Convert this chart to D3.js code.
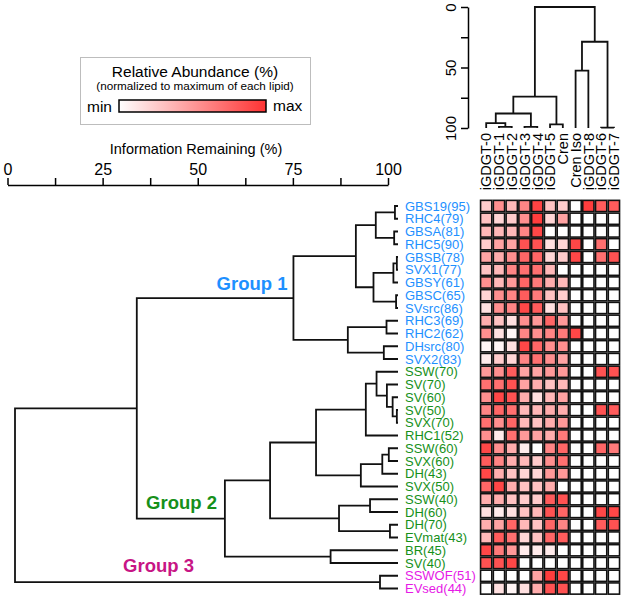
<!DOCTYPE html>
<html>
<head>
<meta charset="utf-8">
<script src="https://cdn.jsdelivr.net/npm/d3@7"></script>
<style>
  body { margin: 0; background: #fff; }
  svg { display: block; font-family: "Liberation Sans", Arial, sans-serif; }
</style>
</head>
<body>
<script>
// sample rows, top to bottom, as they come off the dendrogram
var rowLabels = [
  "GBS19(95)", "RHC4(79)", "GBSA(81)", "RHC5(90)", "GBSB(78)", "SVX1(77)", "GBSY(61)",
  "GBSC(65)", "SVsrc(86)", "RHC3(69)", "RHC2(62)", "DHsrc(80)", "SVX2(83)",
  "SSW(70)", "SV(70)", "SV(60)", "SV(50)", "SVX(70)", "RHC1(52)", "SSW(60)", "SVX(60)",
  "DH(43)", "SVX(50)", "SSW(40)", "DH(60)", "DH(70)", "EVmat(43)", "BR(45)", "SV(40)",
  "SSWOF(51)", "EVsed(44)"
];
// which colour each row label gets
var rowGroups = [
  1,1,1,1,1,1,1,1,1,1,1,1,1,
  2,2,2,2,2,2,2,2,2,2,2,2,2,2,2,2,
  3,3
];
var colLabels = ["iGDGT-0", "iGDGT-1", "iGDGT-2", "iGDGT-3", "iGDGT-4", "iGDGT-5",
  "Cren", "Cren Iso", "iGDGT-8", "iGDGT-6", "iGDGT-7"];

// relative abundance, 0 = min, 1 = max of each lipid
var abundance = [
  [0.25,0.55,0.35,0.60,0.92,0.30,0.25,0,0.95,0.80,0.80],
  [0.30,0.20,0.25,0.55,0.95,0.20,0.45,0,0,0,0],
  [0.35,0.35,0.35,0.60,0.90,0,0,0,0,0,0],
  [0.25,0.45,0.45,0.85,0.85,0.15,0.20,0.90,0,0.70,0],
  [0.45,0.40,0.55,0.75,0.75,0.20,0.25,0.90,0,0.70,0.85],
  [0.30,0.35,0.60,0.70,0.70,0.35,0,0,0,0,0],
  [0.55,0.35,0.50,0.75,0.65,0.40,0.35,0,0,0,0],
  [0.20,0.55,0.60,0.80,0.65,0.30,0.25,0,0,0,0],
  [0.15,0.55,0.60,0.90,0.80,0.15,0.30,0,0,0,0],
  [0.40,0.30,0.15,0.55,0.50,0.75,0.50,0,0,0,0],
  [0.55,0.15,0.05,0.60,0.55,0.60,0.65,0.90,0,0,0],
  [0.05,0.05,0.15,0.90,0.75,0.55,0.55,0,0,0,0],
  [0.10,0.25,0.20,0.60,0.70,0.55,0.45,0,0,0,0],
  [0.50,0.55,0.80,0.45,0.45,0.50,0.50,0,0,0.85,0.85],
  [0.70,0.70,0.85,0.45,0.40,0.30,0.35,0,0,0,0],
  [0.55,0.90,0.85,0.40,0.15,0.35,0.45,0,0,0,0],
  [0.60,0.75,0.70,0.35,0.35,0.40,0.40,0,0,0.85,0.80],
  [0.70,0.55,0.75,0.35,0.30,0.40,0.50,0,0,0,0],
  [0.55,0.10,0.70,0.50,0.45,0.40,0.65,0,0,0,0],
  [0.90,0.55,0.40,0.10,0,0.60,0.75,0,0,0.75,0.65],
  [0.80,0.60,0.40,0.35,0.25,0.55,0.70,0,0,0,0],
  [0.90,0.40,0.30,0.20,0.20,0.50,0.50,0,0,0,0],
  [0.75,0.90,0.40,0.30,0.30,0.40,0,0,0,0,0],
  [0.40,0.40,0.30,0.25,0.25,0.80,0.85,0,0,0,0],
  [0.15,0.10,0.15,0.30,0.35,0.85,0.75,0,0,0.90,0.90],
  [0.40,0.45,0.75,0.35,0.30,0.75,0.60,0,0,0.80,0.85],
  [0.35,0.80,0.70,0.20,0.30,0.75,0.80,0,0,0,0],
  [0.90,0.65,0.50,0.10,0.10,0.10,0,0,0,0,0],
  [0.85,0.85,0.90,0,0,0,0,0,0,0,0],
  [0,0,0,0,0.45,0.95,0.90,0,0,0,0],
  [0,0.15,0.05,0.15,0.40,0.85,0.85,0,0,0,0]
];

// hclust style merges: negative = leaf (1-based), positive = earlier merge (1-based)
// third value = information remaining (%) at the join
var rowMerges = [
  [-1,-2,99.2], [-3,-4,99.0], [1,2,94.2], [-5,-6,99.7], [4,-7,98.8], [-8,-9,99.5],
  [5,6,93.6], [3,7,89.0], [-10,-11,97.0], [-12,-13,96.3], [9,10,86.9], [8,11,72.7],
  [-17,-18,99.7], [-16,13,98.6], [-15,14,97.1], [-14,15,94.4], [16,-19,91.6],
  [-20,-21,97.6], [18,-22,95.9], [19,-23,90.3], [17,20,78.6],
  [-24,-25,92.7], [-26,-27,97.9], [22,23,84.6], [21,24,66.6],
  [-28,-29,82.4], [25,26,54.8], [12,27,31.8], [-30,-31,95.3], [28,29,0]
];
var colMerges = [
  [-2,-3,99], [-1,1,96], [-4,-5,99], [2,3,88], [-6,-7,97], [4,5,74],
  [-8,-9,52.6], [-10,-11,99.7], [7,8,28.7], [6,9,0]
];

var infoTicks = [0, 12.5, 25, 37.5, 50, 62.5, 75, 87.5, 100];
var colTreeTicks = [0, 25, 50, 75, 100];
var groupNames = ["Group 1", "Group 2", "Group 3"];

var groupColor = {1: "#1e90ff", 2: "#16901a", 3: "#e619e6"};
var groupLabelColor = ["#1e90ff", "#16901a", "#c71585"];

var svg = d3.select("body").append("svg").attr("width", 624).attr("height", 598);

var infoX = d3.scaleLinear().domain([0, 100]).range([7.5, 388]);
var treeX = d3.scaleLinear().domain([0, 100]).range([15, 398]);
var rowY = d3.scaleBand().domain(d3.range(rowLabels.length)).range([199.6, 594.9])
  .paddingInner(0.12).paddingOuter(0.06);
var colX = d3.scaleBand().domain(d3.range(colLabels.length)).range([479.8, 620.3])
  .paddingInner(0.12).paddingOuter(0.06);
var colTreeY = d3.scaleLinear().domain([0, 100]).range([7, 128]);
var heat = d3.scaleLinear().domain([0, 1]).range(["#ffffff", "#ff3333"]);

var layoutTree = (merges, leafPos) => {
  var nodes = [];
  var get = (id) => id < 0 ? {pos: leafPos(-id - 1), h: 100} : nodes[id - 1];
  merges.forEach(([a, b, h]) => {
    var A = get(a), B = get(b);
    nodes.push({pos: (A.pos + B.pos) / 2, h: h, A: A, B: B});
  });
  return nodes;
};

// ---- legend
var legend = svg.append("g");
legend.append("rect").attr("x", 80.5).attr("y", 57.5).attr("width", 230).attr("height", 67)
  .attr("fill", "none").attr("stroke", "#bdbdbd").attr("stroke-width", 1);
legend.append("text").attr("x", 195).attr("y", 77).attr("text-anchor", "middle")
  .attr("font-size", "15.5px").text("Relative Abundance (%)");
legend.append("text").attr("x", 195).attr("y", 90).attr("text-anchor", "middle")
  .attr("font-size", "11.7px").text("(normalized to maximum of each lipid)");
var grad = svg.append("defs").append("linearGradient").attr("id", "heatgrad");
grad.append("stop").attr("offset", "0%").attr("stop-color", heat(0));
grad.append("stop").attr("offset", "100%").attr("stop-color", heat(1));
legend.append("rect").attr("x", 119).attr("y", 100).attr("width", 147).attr("height", 12)
  .attr("fill", "url(#heatgrad)").attr("stroke", "#000").attr("stroke-width", 1.5);
legend.append("text").attr("x", 112).attr("y", 112).attr("text-anchor", "end")
  .attr("font-size", "15.5px").text("min");
legend.append("text").attr("x", 273).attr("y", 111).attr("font-size", "15.5px").text("max");

// ---- information remaining axis
svg.append("text").attr("x", 196).attr("y", 154).attr("text-anchor", "middle")
  .attr("font-size", "14.5px").text("Information Remaining (%)");
var axis = svg.append("g").attr("transform", "translate(0,185)")
  .call(d3.axisTop(infoX).tickValues(infoTicks).tickSize(7).tickSizeOuter(0)
    .tickFormat(d => d % 25 === 0 ? d : ""));
axis.selectAll("path,line").attr("stroke", "#000").attr("stroke-width", 1.5);
axis.selectAll("text").attr("font-size", "16px").attr("fill", "#000")
  .attr("font-family", "Liberation Sans, Arial, sans-serif");

// ---- row dendrogram
var rowNodes = layoutTree(rowMerges, i => rowY(i) + rowY.bandwidth() / 2);
svg.append("g").selectAll("path").data(rowNodes).enter().append("path")
  .attr("d", n => "M" + treeX(n.A.h) + "," + n.A.pos + "H" + treeX(n.h) +
    "V" + n.B.pos + "H" + treeX(n.B.h))
  .attr("fill", "none").attr("stroke", "#111").attr("stroke-width", 1.8);

// group names
var groupPos = [[287.5, 290], [217, 509], [194, 572]];
svg.append("g").selectAll("text").data(groupNames).enter().append("text")
  .attr("x", (d, i) => groupPos[i][0]).attr("y", (d, i) => groupPos[i][1])
  .attr("text-anchor", "end").attr("font-size", "18.5px").attr("font-weight", "bold")
  .attr("fill", (d, i) => groupLabelColor[i]).text(d => d);

// row labels
svg.append("g").selectAll("text").data(rowLabels).enter().append("text")
  .attr("x", 405).attr("y", (d, i) => rowY(i) + rowY.bandwidth() / 2)
  .attr("dy", "0.36em").attr("font-size", "13px")
  .attr("fill", (d, i) => groupColor[rowGroups[i]]).text(d => d);

// ---- heatmap
var cells = [];
abundance.forEach((row, r) => row.forEach((v, c) => cells.push({r: r, c: c, v: v})));
svg.append("g").selectAll("rect").data(cells).enter().append("rect")
  .attr("x", d => colX(d.c)).attr("y", d => rowY(d.r))
  .attr("width", colX.bandwidth()).attr("height", rowY.bandwidth())
  .attr("fill", d => heat(d.v)).attr("stroke", "#111").attr("stroke-width", 1.6);

// ---- column dendrogram
var colNodes = layoutTree(colMerges, i => colX(i) + colX.bandwidth() / 2);
svg.append("g").selectAll("path").data(colNodes).enter().append("path")
  .attr("d", n => "M" + n.A.pos + "," + colTreeY(n.A.h) + "V" + colTreeY(n.h) +
    "H" + n.B.pos + "V" + colTreeY(n.B.h))
  .attr("fill", "none").attr("stroke", "#111").attr("stroke-width", 1.8);

var yAxis = svg.append("g").attr("transform", "translate(468,0)")
  .call(d3.axisLeft(colTreeY).tickValues(colTreeTicks).tickSize(7).tickSizeOuter(0)
    .tickFormat(d => d % 50 === 0 ? d : ""));
yAxis.selectAll("path,line").attr("stroke", "#000").attr("stroke-width", 1.5);
yAxis.selectAll("text").attr("transform", "rotate(-90)").attr("x", 0).attr("y", -12)
  .attr("dy", 0).attr("text-anchor", "middle").attr("font-size", "15px").attr("fill", "#000")
  .attr("font-family", "Liberation Sans, Arial, sans-serif");

svg.append("g").selectAll("text").data(colLabels).enter().append("text")
  .attr("transform", (d, i) => "translate(" + (colX(i) + colX.bandwidth() / 2) + ",133) rotate(-90)")
  .attr("text-anchor", "end").attr("dy", "0.36em").attr("font-size", "14.5px").text(d => d);
</script>
</body>
</html>
